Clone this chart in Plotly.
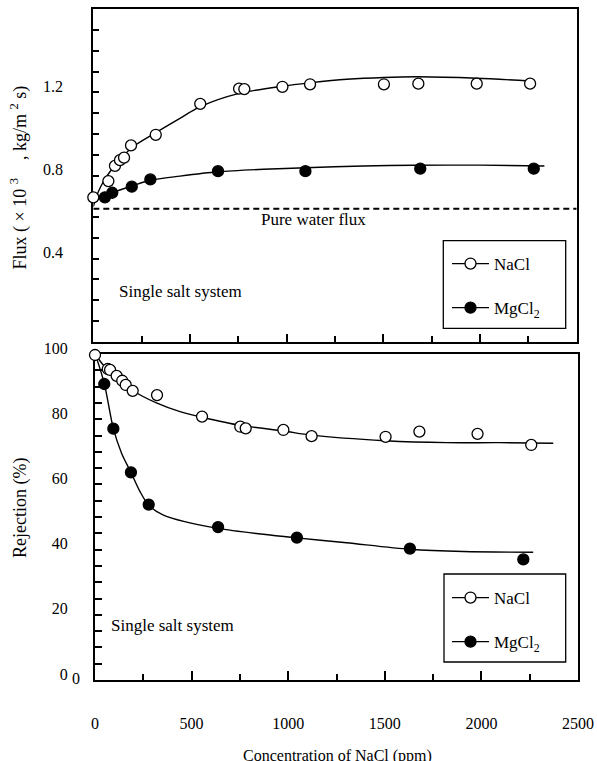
import plotly.graph_objects as go

# ---------------- data ----------------
# Upper panel: permeate flux (x10^3 kg/m2 s) vs NaCl concentration (ppm)
flux_nacl_x = [0, 78, 112, 138, 159, 195, 323, 553, 754, 781, 978, 1121, 1503, 1681, 1983, 2259]
flux_nacl_y = [0.695, 0.773, 0.846, 0.874, 0.886, 0.945, 0.996, 1.145, 1.218, 1.216,
               1.227, 1.239, 1.239, 1.242, 1.242, 1.242]
flux_mgcl2_x = [60, 98, 199, 295, 645, 1097, 1691, 2278]
flux_mgcl2_y = [0.695, 0.717, 0.746, 0.781, 0.821, 0.821, 0.833, 0.833]

flux_nacl_fit_x = [0, 26, 52, 86, 138, 195, 323, 448, 553, 754, 978, 1121, 1311, 1503, 1681, 1983, 2259]
flux_nacl_fit_y = [0.650, 0.722, 0.770, 0.818, 0.874, 0.931, 1.006, 1.075, 1.131, 1.195,
                   1.230, 1.246, 1.263, 1.272, 1.275, 1.268, 1.255]
flux_mgcl2_fit_x = [35, 98, 199, 295, 448, 645, 879, 1097, 1396, 1655, 2000, 2333]
flux_mgcl2_fit_y = [0.682, 0.717, 0.749, 0.777, 0.797, 0.818, 0.830, 0.837, 0.846, 0.849, 0.850, 0.846]

pure_water_x = [0, 2500]
pure_water_flux = [0.64, 0.64]

# Lower panel: rejection (%) vs NaCl concentration (ppm)
rej_nacl_x = [0, 66, 78, 112, 141, 159, 195, 321, 554, 752, 780, 975, 1121, 1504, 1679, 1980, 2258]
rej_nacl_y = [99.7, 95.4, 95.1, 93.3, 91.8, 90.5, 88.7, 87.4, 80.8, 77.7, 77.2, 76.7,
              74.8, 74.6, 76.2, 75.5, 72.1]
rej_mgcl2_x = [48, 95, 186, 278, 637, 1045, 1630, 2217]
rej_mgcl2_y = [90.8, 77.1, 63.7, 53.8, 46.9, 43.7, 40.3, 37.0]

rej_nacl_fit_x = [4, 43, 95, 195, 321, 440, 554, 752, 975, 1121, 1504, 1820, 2096, 2372]
rej_nacl_fit_y = [99.7, 96.6, 93.6, 88.8, 84.9, 82.3, 80.6, 78.1, 76.4, 75.1, 73.4, 72.8, 72.8, 72.6]
rej_mgcl2_fit_x = [4, 48, 95, 138, 186, 233, 278, 354, 637, 1045, 1302, 1630, 1906, 2268]
rej_mgcl2_fit_y = [99.5, 91.0, 77.1, 69.5, 63.7, 57.8, 53.6, 50.6, 46.5, 43.6, 42.1, 40.1, 39.4, 39.2]

# tick labels
flux_tickvals = [0.4, 0.8, 1.2]
flux_ticktext = ["0.4", "0.8", "1.2"]
rej_tickvals = [0, 20, 40, 60, 80, 100]
rej_ticktext = ["0", "20", "40", "60", "80", "100"]
conc_tickvals = [0, 500, 1000, 1500, 2000, 2500]
conc_ticktext = ["0", "500", "1000", "1500", "2000", "2500"]

# ---------------- figure ----------------
W, H = 597, 761
FONT = "Liberation Serif"
BLACK = "#000000"


def px(x):
    return x / W


def py(y):
    return 1 - y / H


mk_open = dict(symbol="circle", size=11, color="white", line=dict(color=BLACK, width=1.3))
mk_fill = dict(symbol="circle", size=11, color=BLACK, line=dict(color=BLACK, width=1.3))
fit_line = dict(color=BLACK, width=1.4, shape="spline", smoothing=0.8)

fig = go.Figure()

# upper panel
fig.add_trace(go.Scatter(x=pure_water_x, y=pure_water_flux, mode="lines",
                         line=dict(color=BLACK, width=2, dash="6px,4px"),
                         xaxis="x", yaxis="y", showlegend=False, hoverinfo="skip"))
fig.add_trace(go.Scatter(x=flux_nacl_fit_x, y=flux_nacl_fit_y, mode="lines", line=fit_line,
                         xaxis="x", yaxis="y", showlegend=False))
fig.add_trace(go.Scatter(x=flux_mgcl2_fit_x, y=flux_mgcl2_fit_y, mode="lines", line=fit_line,
                         xaxis="x", yaxis="y", showlegend=False))
fig.add_trace(go.Scatter(x=flux_nacl_x, y=flux_nacl_y, mode="markers", marker=mk_open,
                         xaxis="x", yaxis="y", showlegend=False, cliponaxis=False))
fig.add_trace(go.Scatter(x=flux_mgcl2_x, y=flux_mgcl2_y, mode="markers", marker=mk_fill,
                         xaxis="x", yaxis="y", showlegend=False, cliponaxis=False))

# lower panel
fig.add_trace(go.Scatter(x=rej_nacl_fit_x, y=rej_nacl_fit_y, mode="lines", line=fit_line,
                         xaxis="x2", yaxis="y2", showlegend=False))
fig.add_trace(go.Scatter(x=rej_mgcl2_fit_x, y=rej_mgcl2_fit_y, mode="lines", line=fit_line,
                         xaxis="x2", yaxis="y2", showlegend=False))
fig.add_trace(go.Scatter(x=rej_nacl_x, y=rej_nacl_y, mode="markers", marker=mk_open,
                         xaxis="x2", yaxis="y2", showlegend=False, cliponaxis=False))
fig.add_trace(go.Scatter(x=rej_mgcl2_x, y=rej_mgcl2_y, mode="markers", marker=mk_fill,
                         xaxis="x2", yaxis="y2", showlegend=False, cliponaxis=False))

# legend entries (one legend per panel)
for lg, xa, ya in (("legend", "x", "y"), ("legend2", "x2", "y2")):
    fig.add_trace(go.Scatter(x=[None], y=[None], mode="lines+markers", name="NaCl",
                             marker=mk_open, line=dict(color=BLACK, width=1.3),
                             xaxis=xa, yaxis=ya, legend=lg, legendgroup=lg + "a"))
    fig.add_trace(go.Scatter(x=[None], y=[None], mode="lines+markers", name="MgCl<sub>2</sub>",
                             marker=mk_fill, line=dict(color=BLACK, width=1.3),
                             xaxis=xa, yaxis=ya, legend=lg, legendgroup=lg + "b"))

axis_common = dict(showline=True, linecolor=BLACK, linewidth=2, mirror=True, showgrid=False,
                   zeroline=False, ticks="inside", tickcolor=BLACK, tickwidth=1.5,
                   automargin=False, layer="below traces",
                   tickfont=dict(family=FONT, size=16, color=BLACK))

x_top = dict(domain=[px(93.3), px(576.7)], range=[0, 2500], anchor="y",
             tickmode="array", tickvals=conc_tickvals, ticktext=conc_ticktext,
             showticklabels=False, ticklen=8,
             minor=dict(tickmode="linear", tick0=0, dtick=250, ticks="inside", ticklen=6,
                        tickcolor=BLACK, tickwidth=1.5),
             **axis_common)
y_top = dict(domain=[py(341.7), py(9.3)], range=[0, 1.6], anchor="x",
             tickmode="array", tickvals=flux_tickvals, ticktext=flux_ticktext, ticklen=6,
             ticklabelstandoff=25, ticklabelshift=-6,
             minor=dict(tickmode="linear", tick0=0, dtick=0.1, ticks="inside", ticklen=6,
                        tickcolor=BLACK, tickwidth=1.5),
             **axis_common)
x_bot = dict(domain=[px(95), px(578)], range=[0, 2500], anchor="y2",
             tickmode="array", tickvals=conc_tickvals, ticktext=conc_ticktext, ticklen=9,
             ticklabelstandoff=28,
             minor=dict(tickmode="linear", tick0=0, dtick=250, ticks="inside", ticklen=6,
                        tickcolor=BLACK, tickwidth=1.5),
             **axis_common)
y_bot = dict(domain=[py(680), py(354)], range=[0, 100], anchor="x2",
             tickmode="array", tickvals=rej_tickvals, ticktext=rej_ticktext, ticklen=7,
             ticklabelstandoff=22, ticklabelshift=-6,
             minor=dict(tickmode="linear", tick0=0, dtick=5, ticks="inside", ticklen=7,
                        tickcolor=BLACK, tickwidth=1.5),
             **axis_common)

legend_common = dict(xanchor="left", yanchor="top", bgcolor="rgba(0,0,0,0)", borderwidth=0,
                     font=dict(family=FONT, size=17, color=BLACK), tracegroupgap=19,
                     itemwidth=37, orientation="v")

txt = dict(family=FONT, size=17, color=BLACK)
ytitle = dict(family=FONT, size=18, color=BLACK)

fig.update_layout(
    width=W, height=H, autosize=False,
    margin=dict(l=0, r=0, t=0, b=0, pad=0, autoexpand=False),
    paper_bgcolor="white", plot_bgcolor="white",
    font=dict(family=FONT, size=16, color=BLACK),
    xaxis=x_top, yaxis=y_top, xaxis2=x_bot, yaxis2=y_bot,
    legend=dict(x=px(447), y=py(246), **legend_common),
    legend2=dict(x=px(447), y=py(580), **legend_common),
    shapes=[
        dict(type="rect", xref="paper", yref="paper", x0=px(443.3), x1=px(565.7),
             y0=py(328.3), y1=py(240.7), line=dict(color=BLACK, width=1.3)),
        dict(type="rect", xref="paper", yref="paper", x0=px(444), x1=px(565.7),
             y0=py(662), y1=py(574), line=dict(color=BLACK, width=1.3)),
    ],
    annotations=[
        dict(text="Pure water flux", x=px(313), y=py(220), xref="paper", yref="paper",
             showarrow=False, font=txt, xanchor="center", yanchor="middle"),
        dict(text="Single salt system", x=px(116.7), y=py(291.7), xref="paper", yref="paper",
             showarrow=False, font=txt, xanchor="left", yanchor="middle"),
        dict(text="Single salt system", x=px(109.3), y=py(625), xref="paper", yref="paper",
             showarrow=False, font=txt, xanchor="left", yanchor="middle"),
        dict(text="Flux ( \u00d7 10 <sup>3</sup>\u00a0\u00a0\u00a0 , kg/m <sup>2</sup> s)",
             x=px(20), y=py(177.5),
             xref="paper", yref="paper", showarrow=False, font=ytitle, textangle=-90,
             xanchor="center", yanchor="middle"),
        dict(text="Rejection (%)", x=px(20), y=py(508), xref="paper", yref="paper",
             showarrow=False, font=ytitle, textangle=-90, xanchor="center", yanchor="middle"),
        dict(text="Concentration of NaCl (ppm)", x=px(337), y=py(756), xref="paper",
             yref="paper", showarrow=False, font=dict(family=FONT, size=16, color=BLACK),
             xanchor="center", yanchor="middle"),
        dict(text="0", x=px(75.5), y=py(678), xref="paper", yref="paper", showarrow=False,
             font=dict(family=FONT, size=16, color=BLACK), xanchor="center", yanchor="middle"),
    ],
)

page_fix = (
    "var s=document.createElement('style');"
    "s.innerHTML='html,body{margin:0!important;padding:0!important;overflow:hidden!important;}';"
    "document.head.appendChild(s);"
)

fig.write_html("out.html", config={"displayModeBar": False, "responsive": False},
               post_script=page_fix)
